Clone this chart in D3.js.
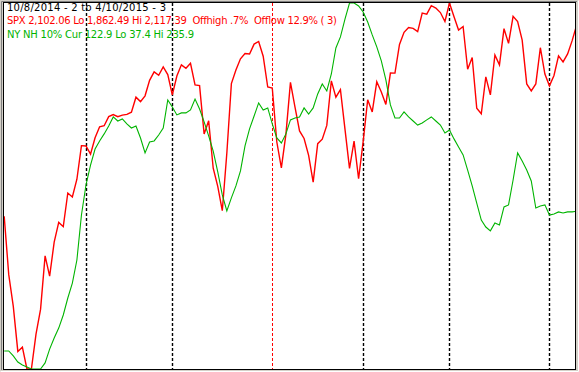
<!DOCTYPE html>
<html>
<head>
<meta charset="utf-8">
<script src="https://cdn.jsdelivr.net/npm/d3@7"></script>
<style>
  body { margin: 0; background: #d4d0c8; }
  svg { display: block; }
  text { font-family: "DejaVu Sans", Verdana, sans-serif; font-size: 10px; white-space: pre; }
</style>
</head>
<body>
<div id="chart"></div>
<script>
// trading days 10/8/2014 .. 4/10/2015 (index 0..126)
const spx = [
  1968.89, 1928.21, 1906.13, 1874.74, 1877.70, 1862.49, 1862.76, 1886.76, 1904.01, 1941.28,
  1927.11, 1950.82, 1964.58, 1961.63, 1985.05, 1982.30, 1994.65, 2018.05,
  2017.81, 2012.10, 2023.57, 2031.21, 2031.92, 2038.26, 2039.68, 2038.25, 2039.33, 2039.82,
  2041.32, 2051.80, 2048.72, 2052.75, 2063.50, 2069.41, 2067.03, 2072.83, 2067.56,
  2053.44, 2066.55, 2074.33, 2071.92, 2075.37, 2060.31, 2059.82, 2026.14, 2035.33, 2002.33,
  1989.63, 1972.74, 2012.89, 2061.23, 2070.65, 2078.54, 2082.17, 2081.88, 2088.77, 2090.57,
  2080.35, 2058.90,
  2058.20, 2020.58, 2002.61, 2025.90, 2062.14, 2044.81, 2028.26, 2023.03, 2011.27, 1992.67,
  2019.42, 2022.55, 2032.12, 2063.15, 2051.82, 2057.09, 2029.55, 2002.16, 2021.25, 1994.99,
  2020.85, 2050.03, 2041.51, 2062.52, 2055.47, 2046.74, 2068.59, 2068.53, 2088.48, 2096.99,
  2100.34, 2099.68, 2097.45, 2110.30, 2109.66, 2115.48, 2113.86, 2110.74, 2104.50,
  2117.39, 2107.78, 2098.53, 2101.04, 2071.26, 2079.43, 2044.16, 2040.24, 2065.95, 2053.40,
  2081.19, 2074.28, 2099.50, 2089.27, 2108.10, 2104.42, 2091.50, 2061.05, 2056.15, 2061.02,
  2086.24, 2067.89,
  2059.69, 2066.96, 2080.62, 2076.33, 2081.90, 2091.18, 2102.06
];

const nyNH = [
  47.2, 47.2, 44.5, 41.2, 39.6, 38.5, 37.4, 37.4, 37.4, 40.7,
  48.2, 54.2, 59.6, 66.7, 75.9, 84.0, 96.5, 120.9,
  137.2, 148.0, 156.7, 161.1, 164.9, 169.2, 174.1, 171.9, 173.0, 170.3,
  168.1, 169.2, 162.7, 154.6, 160.5, 161.1, 164.3, 168.1, 183.3,
  179.5, 175.2, 176.3, 176.3, 177.9, 183.8, 178.4, 171.4, 163.8, 155.6,
  144.3, 131.8, 123.1, 130.2, 136.7, 144.8, 158.4, 167.6, 174.6, 181.7,
  177.9, 179.0,
  170.3, 162.7, 160.0, 164.9, 172.5, 173.5, 174.1, 179.0, 175.7, 179.0,
  186.6, 192.0, 188.2, 197.4, 211.5, 217.5, 227.2, 235.9, 235.9, 234.3,
  231.0, 225.6, 218.6, 212.1, 204.5, 194.2, 180.6, 173.5, 173.5, 176.8,
  174.1, 171.9, 169.7, 170.8, 172.5, 174.1, 171.9, 169.7, 165.4,
  167.0, 162.2, 157.8, 153.5, 145.3, 136.7, 127.4, 118.2, 114.4, 112.3,
  116.6, 115.5, 125.3, 126.4, 139.9, 154.6, 150.2, 145.3, 139.4, 124.7,
  125.8, 126.4,
  120.9, 121.5, 122.6, 122.0, 122.6, 122.6, 122.9
];

// first trading day of each month (index into the series)
const monthStarts = [18, 37, 59, 79, 98, 120];
const yearStart = 59;

const spxLo = 1862.49, spxHi = 2117.39;
const nhLo = 37.4, nhHi = 235.9;

const titleLines = [
  "10/8/2014 - 2 to 4/10/2015 - 3",
  "SPX 2,102.06 Lo 1,862.49 Hi 2,117.39  Offhigh .7%  Offlow 12.9% ( 3)",
  "NY NH 10% Cur 122.9 Lo 37.4 Hi 235.9"
];
const titleColors = ["#000000", "#ff0000", "#00b400"];
const titleWidths = [159, 330, 187];

/**
 * LAYOUT
 * */
const width = 579,
  height = 372,
  frame = { left: 3, top: 2, right: 575, bottom: 369 };

const svg = d3.select("#chart")
  .append("svg")
  .attr("width", width)
  .attr("height", height);

// window chrome
svg.append("rect")
  .attr("width", width).attr("height", height)
  .attr("fill", "#d4d0c8");
svg.append("path")
  .attr("d", `M1.5,${height - 2}V1.5H${width - 2}`)
  .attr("fill", "none").attr("stroke", "#808080");
svg.append("path")
  .attr("d", `M0.5,${height - 0.5}H${width - 0.5}V0.5`)
  .attr("fill", "none").attr("stroke", "#ffffff");

svg.append("rect")
  .attr("x", frame.left + 0.5).attr("y", frame.top + 0.5)
  .attr("width", frame.right - frame.left)
  .attr("height", frame.bottom - frame.top)
  .attr("fill", "#ffffff")
  .attr("stroke", "#000000");

svg.append("clipPath").attr("id", "plot")
  .append("rect")
  .attr("x", frame.left + 1).attr("y", frame.top + 1)
  .attr("width", frame.right - frame.left - 1)
  .attr("height", frame.bottom - frame.top - 1);

const x = d3.scaleLinear()
  .domain([0, spx.length - 1])
  .range([4.2, 576.7]);

const ySpx = d3.scaleLinear().domain([spxLo, spxHi]).range([369, 3]);
const yNH = d3.scaleLinear().domain([nhLo, nhHi]).range([369, 3]);

const g = svg.append("g").attr("clip-path", "url(#plot)");

// header text
g.selectAll(".title")
  .data(titleLines)
  .join("text")
  .attr("class", "title")
  .attr("x", 7)
  .attr("y", (d, i) => 11 + i * 13.4)
  .attr("fill", (d, i) => titleColors[i])
  .attr("textLength", (d, i) => titleWidths[i])
  .attr("lengthAdjust", "spacing")
  .text(d => d);

// month separators
g.selectAll(".month")
  .data(monthStarts)
  .join("line")
  .attr("class", "month")
  .attr("x1", d => Math.round(x(d)) + 0.5)
  .attr("x2", d => Math.round(x(d)) + 0.5)
  .attr("y1", frame.top + 1)
  .attr("y2", frame.bottom)
  .attr("stroke", d => d === yearStart ? "#ff0000" : "#000000")
  .attr("stroke-width", d => d === yearStart ? 1 : 1.4)
  .attr("stroke-dasharray", "3,2");

const nhLine = d3.line().x((d, i) => x(i)).y(d => yNH(d));
const spxLine = d3.line().x((d, i) => x(i)).y(d => ySpx(d));

g.append("path")
  .datum(spx)
  .attr("d", spxLine)
  .attr("fill", "none")
  .attr("stroke", "#ff0000")
  .attr("stroke-width", 1.4);

g.append("path")
  .datum(nyNH)
  .attr("d", nhLine)
  .attr("fill", "none")
  .attr("stroke", "#00b400")
  .attr("stroke-width", 1.1);
</script>
</body>
</html>
